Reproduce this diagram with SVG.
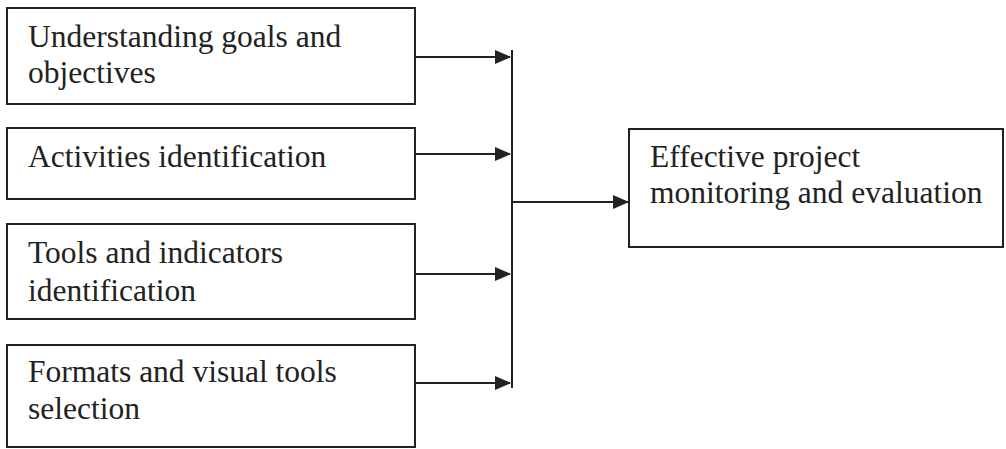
<svg xmlns="http://www.w3.org/2000/svg" width="1006" height="449" viewBox="0 0 1006 449">
<defs>
<style>
.box{fill:#fff;stroke:#222;stroke-width:2}
.t{font-family:"Liberation Serif","Times New Roman",serif;font-size:31.5px;fill:#222}
.c{stroke:#222;stroke-width:2;fill:none}
</style>
<marker id="ah" markerWidth="16" markerHeight="14" refX="15" refY="7" orient="auto" markerUnits="userSpaceOnUse">
<path d="M0,0 L16,7 L0,14 Z" fill="#222"/>
</marker>
</defs>
<rect width="1006" height="449" fill="#fff"/>
<g id="n1"><rect class="box" x="7" y="8" width="408" height="96"/><text class="t" x="28" y="47">Understanding goals and</text><text class="t" x="28" y="83">objectives</text></g>
<g id="n2"><rect class="box" x="7" y="128" width="408" height="71"/><text class="t" x="28" y="167">Activities identification</text></g>
<g id="n3"><rect class="box" x="7" y="224" width="408" height="95"/><text class="t" x="28" y="263">Tools and indicators</text><text class="t" x="28" y="301">identification</text></g>
<g id="n4"><rect class="box" x="7" y="345" width="408" height="102"/><text class="t" x="28" y="382">Formats and visual tools</text><text class="t" x="28" y="419">selection</text></g>
<g id="n5"><rect class="box" x="629" y="129" width="374" height="118"/><text class="t" x="650" y="167">Effective project</text><text class="t" x="650" y="203">monitoring and evaluation</text></g>
<g id="connectors">
<line class="c" x1="415" y1="57" x2="510" y2="57" marker-end="url(#ah)"/>
<line class="c" x1="415" y1="154" x2="510" y2="154" marker-end="url(#ah)"/>
<line class="c" x1="415" y1="274" x2="510" y2="274" marker-end="url(#ah)"/>
<line class="c" x1="415" y1="383" x2="510" y2="383" marker-end="url(#ah)"/>
<line class="c" x1="512" y1="50" x2="512" y2="388"/>
<line class="c" x1="512" y1="202" x2="628" y2="202" marker-end="url(#ah)"/>
</g>
</svg>
